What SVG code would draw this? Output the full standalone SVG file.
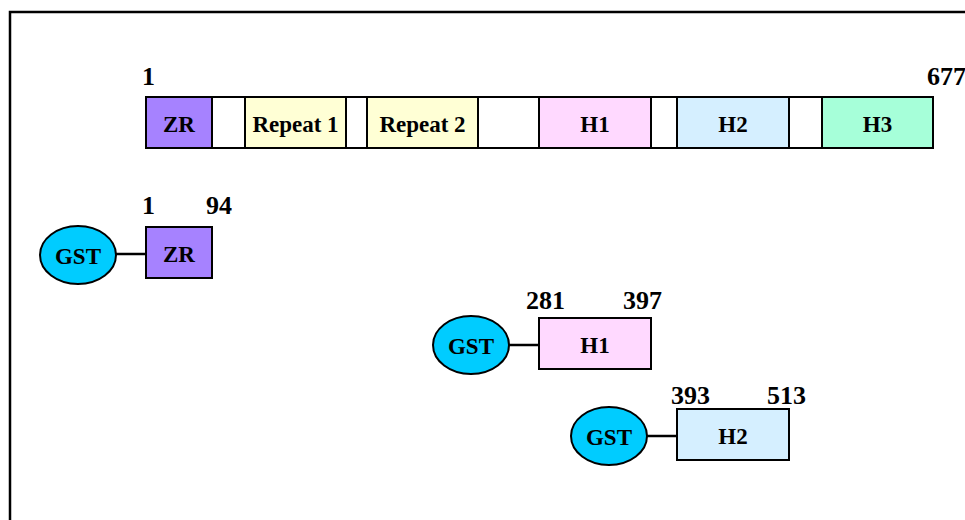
<svg xmlns="http://www.w3.org/2000/svg" width="965" height="520" viewBox="0 0 965 520">
<style>
text{font-family:"Liberation Serif","Times New Roman",serif;font-weight:bold;fill:#000}
.lbl{font-size:23px;text-anchor:middle;dominant-baseline:central}
.num{font-size:26px}
.box{stroke:#000;stroke-width:2}
.gst{fill:#00CCFF;stroke:#000;stroke-width:2}
.conn{stroke:#000;stroke-width:2.5}
</style>
<rect width="965" height="520" fill="#fff"/>
<rect x="10" y="12" width="1000" height="560" fill="none" stroke="#000" stroke-width="2.5"/>
<g id="bar">
<rect class="box" x="146" y="97" width="787" height="51" fill="#fff"/>
<rect class="box" x="146" y="97" width="66" height="51" fill="#A682FF"/>
<rect class="box" x="245" y="97" width="101" height="51" fill="#FFFFD5"/>
<rect class="box" x="367" y="97" width="111" height="51" fill="#FFFFD5"/>
<rect class="box" x="539" y="97" width="112" height="51" fill="#FFD9FF"/>
<rect class="box" x="677" y="97" width="112" height="51" fill="#D5EFFF"/>
<rect class="box" x="822" y="97" width="111" height="51" fill="#A6FFD9"/>
<text class="lbl" x="179" y="124">ZR</text>
<text class="lbl" x="295.5" y="124">Repeat 1</text>
<text class="lbl" x="422.5" y="124">Repeat 2</text>
<text class="lbl" x="595" y="124">H1</text>
<text class="lbl" x="733" y="124">H2</text>
<text class="lbl" x="877.5" y="124">H3</text>
<text class="num" x="142" y="85">1</text>
<text class="num" x="927" y="85">677</text>
</g>
<g id="connectors">
<line class="conn" x1="116" y1="254" x2="146" y2="254"/>
<line class="conn" x1="509" y1="345" x2="539" y2="345"/>
<line class="conn" x1="647" y1="436" x2="677" y2="436"/>
</g>
<g id="gst1">
<ellipse class="gst" cx="78" cy="255" rx="38" ry="29"/>
<text class="lbl" x="78" y="256">GST</text>
</g>
<g id="zr">
<rect class="box" x="146" y="227" width="66" height="51" fill="#A682FF"/>
<text class="lbl" x="179" y="254">ZR</text>
<text class="num" x="142" y="214">1</text>
<text class="num" x="206" y="214">94</text>
</g>
<g id="gst2">
<ellipse class="gst" cx="471" cy="345" rx="38" ry="29"/>
<text class="lbl" x="471" y="346">GST</text>
</g>
<g id="h1">
<rect class="box" x="539" y="318" width="112" height="51" fill="#FFD9FF"/>
<text class="lbl" x="595" y="345">H1</text>
<text class="num" x="526" y="309">281</text>
<text class="num" x="623" y="309">397</text>
</g>
<g id="gst3">
<ellipse class="gst" cx="609" cy="436" rx="38" ry="29"/>
<text class="lbl" x="609" y="437">GST</text>
</g>
<g id="h2">
<rect class="box" x="677" y="409" width="112" height="51" fill="#D5EFFF"/>
<text class="lbl" x="733" y="436">H2</text>
<text class="num" x="671" y="404">393</text>
<text class="num" x="767" y="404">513</text>
</g>
</svg>
